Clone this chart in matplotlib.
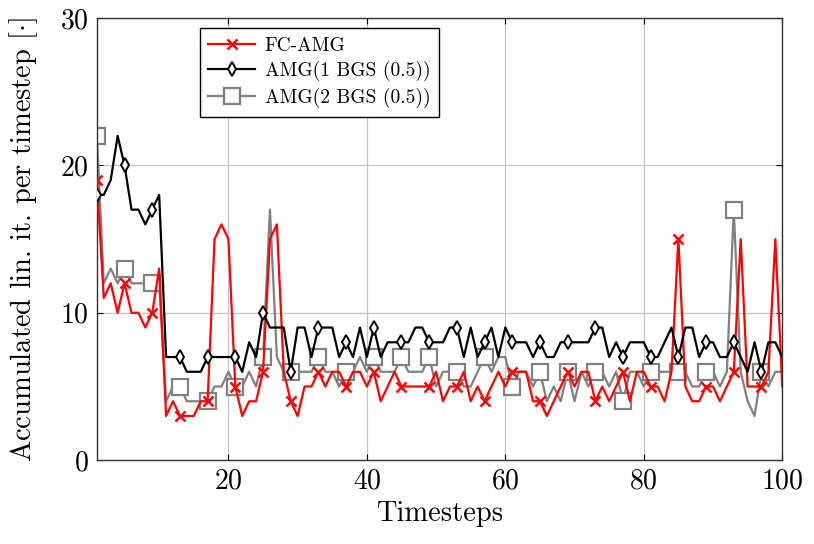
import matplotlib
matplotlib.use("Agg")
import matplotlib.pyplot as plt
import numpy as np

plt.rcParams['font.family'] = ['cmr10', 'DejaVu Serif']
plt.rcParams['mathtext.fontset'] = 'cm'
plt.rcParams['axes.formatter.use_mathtext'] = True

timesteps = list(range(1, 101))

fc_amg = [19, 11, 12, 10, 12, 10, 10, 9, 10, 13,
          3, 4, 3, 3, 3, 4, 4, 15, 16, 15,
          5, 3, 4, 4, 6, 15, 16, 6, 4, 3,
          5, 5, 6, 5, 6, 6, 5, 6, 6, 5,
          6, 4, 5, 6, 5, 5, 5, 5, 5, 6,
          4, 5, 5, 6, 4, 5, 4, 5, 6, 5,
          6, 6, 6, 4, 4, 3, 4, 5, 6, 5,
          6, 6, 4, 5, 4, 5, 6, 4, 6, 6,
          5, 5, 4, 6, 15, 5, 4, 4, 5, 5,
          4, 5, 6, 15, 5, 5, 5, 6, 15, 5]

amg_1bgs = [18, 18, 19, 22, 20, 17, 17, 16, 17, 18,
            7, 7, 7, 6, 6, 6, 7, 7, 7, 7,
            7, 6, 8, 7, 10, 9, 9, 9, 6, 9,
            9, 7, 9, 9, 9, 7, 8, 7, 9, 7,
            9, 7, 8, 8, 8, 8, 9, 9, 8, 8,
            8, 9, 9, 7, 9, 7, 8, 9, 7, 9,
            8, 8, 8, 7, 8, 7, 7, 8, 8, 8,
            8, 8, 9, 9, 7, 8, 7, 8, 8, 8,
            7, 7, 8, 9, 7, 9, 9, 7, 8, 8,
            7, 7, 8, 7, 6, 8, 6, 8, 8, 7]

amg_2bgs = [22, 12, 13, 12, 13, 12, 12, 12, 12, 12,
            4, 5, 5, 4, 4, 4, 4, 5, 5, 6,
            5, 5, 6, 5, 7, 17, 7, 6, 6, 6,
            6, 6, 7, 6, 6, 5, 6, 6, 7, 6,
            7, 6, 6, 6, 7, 6, 6, 6, 7, 5,
            6, 6, 6, 5, 5, 6, 7, 6, 7, 7,
            5, 6, 6, 5, 6, 4, 5, 4, 6, 4,
            6, 5, 6, 6, 5, 6, 4, 6, 6, 5,
            6, 6, 6, 6, 6, 6, 5, 5, 6, 6,
            5, 6, 17, 6, 4, 3, 6, 5, 6, 6]

fig = plt.figure(figsize=(8.14, 5.44), dpi=100)
ax = fig.add_axes([0.119, 0.154, 0.842, 0.813])

ax.plot(timesteps, fc_amg, color='red', lw=1.6, marker='x', ms=7, mew=1.8,
        markevery=4, label='FC-AMG', zorder=3)
ax.plot(timesteps, amg_1bgs, color='black', lw=1.6, marker='d', ms=7, mew=1.4,
        mfc='white', mec='black', markevery=4, label='AMG(1 BGS (0.5))', zorder=4)
ax.plot(timesteps, amg_2bgs, color='#808080', lw=1.6, marker='s', ms=11, mew=1.6,
        mfc='white', mec='#808080', markevery=4, label='AMG(2 BGS (0.5))', zorder=2)

ax.set_xlim(1, 100)
ax.set_ylim(0, 30)
ax.set_xticks([20, 40, 60, 80, 100])
ax.set_yticks([0, 10, 20, 30])
ax.grid(True, color='#c4c4c4', lw=0.9)
ax.set_axisbelow(True)
ax.tick_params(direction='in', labelsize=20, length=4, width=0.8, top=True, right=True,
               pad=6)
for s in ax.spines.values():
    s.set_color('#333333')
    s.set_linewidth(1.0)

ax.set_xlabel('Timesteps', fontsize=20.5, labelpad=4)
ax.set_ylabel(r'Accumulated lin. it. per timestep [$\cdot$]', fontsize=20.5, labelpad=14)

leg = ax.legend(loc='upper left', bbox_to_anchor=(0.150, 0.977), fontsize=14,
                frameon=True, fancybox=False, edgecolor='black', framealpha=1,
                handlelength=2.4, handletextpad=0.5, borderpad=0.45,
                labelspacing=0.33, borderaxespad=0)
leg.get_frame().set_linewidth(1.0)

fig.savefig('out.png', dpi=100)
